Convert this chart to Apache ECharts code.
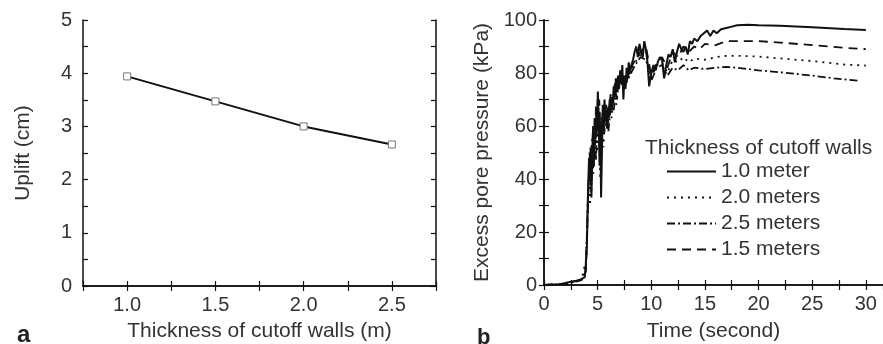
<!DOCTYPE html>
<html>
<head>
<meta charset="utf-8">
<script src="https://cdn.jsdelivr.net/npm/echarts@6/dist/echarts.min.js"></script>
<style>html,body{margin:0;padding:0;background:#fff;}#c{width:883px;height:344px;}</style>
</head>
<body>
<div id="c"></div>
<script>
// ---- Panel a data ----
const thickness = [1.0, 1.5, 2.0, 2.5];
const uplift = [3.94, 3.47, 3.0, 2.66];
const thicknessTicks = [1.0, 1.5, 2.0, 2.5];
const upliftTicks = [0, 1, 2, 3, 4, 5];

// ---- Panel b data: [time (s), excess pore pressure (kPa)] ----
const wall10 = [[0,0],[1.5,0.3],[2.5,1.2],[3.3,1.8],[3.6,2.5],[3.8,3],[3.9,8],[4.0,15],[4.1,35],[4.2,48],[4.28,40],[4.35,52],[4.42,33],[4.5,50],[4.58,60],[4.65,45],[4.72,63],[4.8,55],[4.88,65],[4.95,58],[5.02,73],[5.1,60],[5.18,45],[5.25,62],[5.32,33],[5.4,50],[5.48,68],[5.56,60],[5.64,70],[5.72,62],[5.8,66],[5.88,59],[5.96,67],[6.04,63],[6.12,70],[6.2,65],[6.3,71],[6.4,68],[6.5,75],[6.6,71],[6.7,78],[6.8,73],[6.9,79],[7.0,74],[7.1,81],[7.2,76],[7.3,83],[7.4,70],[7.5,79],[7.6,74],[7.7,82],[7.8,78],[7.9,84],[8.0,80],[8.15,83],[8.3,85],[8.45,88],[8.6,90],[8.75,86],[8.9,91],[9.05,88],[9.2,86],[9.35,92],[9.5,89],[9.65,84],[9.8,75],[10.0,80],[10.2,83],[10.4,81],[10.6,84],[10.8,86],[11.0,85],[11.2,78],[11.4,83],[11.6,87],[11.8,86],[12.0,89],[12.2,84],[12.4,88],[12.6,91],[12.8,89],[13.0,88],[13.2,90],[13.4,87],[13.6,92],[13.8,91],[14.0,93],[14.3,92],[14.6,94],[14.9,95],[15.2,96],[15.5,94],[15.8,96],[16.1,95],[16.5,96.5],[17,97],[17.5,97.5],[18,98],[19,98.2],[20,98],[22,97.8],[25,97.3],[28,96.6],[30,96.2]];
const wall15 = [[0,0],[2,0.5],[3.5,2],[3.9,5],[4.1,30],[4.25,50],[4.4,38],[4.55,57],[4.7,48],[4.85,68],[5.0,62],[5.15,70],[5.3,55],[5.45,64],[5.6,58],[5.8,68],[6.0,61],[6.2,72],[6.4,66],[6.6,76],[6.8,70],[7,78],[7.5,74],[8,81],[8.5,85],[9,88],[9.5,90],[10,79],[10.5,84],[11,86],[11.5,82],[12,88],[12.5,86],[13,90],[13.5,88],[14,90],[14.5,89],[15,91],[16,90.5],[17,92],[18,92],[20,92],[22,91.5],[25,90.5],[28,89.5],[30,89]];
const wall20 = [[0,0],[2,0.4],[3.5,2.2],[3.95,10],[4.15,40],[4.3,30],[4.45,55],[4.6,42],[4.8,60],[4.95,50],[5.1,66],[5.25,40],[5.4,60],[5.55,52],[5.7,66],[5.9,62],[6.1,68],[6.3,63],[6.5,72],[6.75,68],[7,77],[7.5,76],[8,80],[8.5,84],[9,87],[9.5,88],[10,78],[10.5,83],[11,84],[11.5,80],[12,85],[12.5,84],[13,86],[13.5,84],[14,85.5],[15,85],[16,86],[17,86.5],[18,86.5],[20,86.2],[22,85.5],[25,84.5],[28,83.2],[30,82.8]];
const wall25 = [[0,0],[2,0.3],[3.5,1.8],[3.9,6],[4.1,33],[4.25,45],[4.4,35],[4.55,52],[4.7,60],[4.85,47],[5.0,70],[5.15,56],[5.3,48],[5.45,65],[5.6,57],[5.8,63],[6.0,58],[6.25,68],[6.5,66],[6.75,74],[7,76],[7.5,75],[8,79],[8.5,83],[9,86],[9.5,85],[10,77],[10.5,82],[11,83],[11.5,79],[12,82],[12.5,81],[13,83],[13.5,81],[14,82],[15,81.5],[16,82],[17,82.3],[18,82],[20,81],[22,80.3],[25,79],[27,78],[29.5,77]];
const timeTicks = [0, 5, 10, 15, 20, 25, 30];
const pressureTicks = [0, 20, 40, 60, 80, 100];
const legendNames = ['1.0 meter', '2.0 meters', '2.5 meters', '1.5 meters'];

const FONT = '"Liberation Sans", Arial, sans-serif';
const TXT = '#333';
const AX = '#111';

function onlyAt(list, fmt) {
  return v => list.some(t => Math.abs(t - v) < 1e-6) ? fmt(v) : '';
}

function axisBase(extra) {
  return Object.assign({
    type: 'value',
    axisLine: { show: true, lineStyle: { color: AX, width: 1.5 } },
    axisTick: { show: true, inside: true, length: 5, lineStyle: { color: AX, width: 1.2 } },
    splitLine: { show: false },
    axisLabel: { show: false },
    nameTextStyle: { color: TXT, fontFamily: FONT, fontSize: 21 }
  }, extra);
}
function lbl(margin, list, fmt) {
  return { show: true, color: TXT, fontFamily: FONT, fontSize: 20, margin: margin, formatter: onlyAt(list, fmt) };
}

const option = {
  animation: false,
  title: [
    { text: 'a', left: 12, top: 318, textStyle: { fontFamily: FONT, fontSize: 24, fontWeight: 'bold', color: '#222' } },
    { text: 'b', left: 472, top: 322, textStyle: { fontFamily: FONT, fontSize: 22, fontWeight: 'bold', color: '#222' } },
    { text: 'Thickness of cutoff walls', left: 640, top: 133, textStyle: { fontFamily: FONT, fontSize: 21, fontWeight: 'normal', color: TXT } }
  ],
  legend: {
    orient: 'vertical', left: 661, top: 156,
    itemWidth: 49, itemHeight: 14, itemGap: 5,
    data: legendNames,
    itemStyle: { color: 'transparent', borderWidth: 0, opacity: 0 },
    textStyle: { fontFamily: FONT, fontSize: 21, color: TXT }
  },
  grid: [
    { left: 83, right: 447, top: 20, bottom: 58, outerBoundsMode: 'none', containLabel: false },
    { left: 544, right: 0, top: 20, bottom: 59, outerBoundsMode: 'none', containLabel: false }
  ],
  xAxis: [
    axisBase({ gridIndex: 0, min: 0.75, max: 2.75, interval: 0.25, position: 'bottom',
      name: 'Thickness of cutoff walls (m)', nameLocation: 'middle', nameGap: 35,
      axisLabel: lbl(9, thicknessTicks, v => v.toFixed(1)) }),
    axisBase({ gridIndex: 0, min: 0.75, max: 2.75, interval: 0.25, position: 'top' }),
    axisBase({ gridIndex: 1, min: 0, max: 31.6, interval: 2.5, position: 'bottom',
      name: 'Time (second)', nameLocation: 'middle', nameGap: 36,
      axisLabel: Object.assign(lbl(9, timeTicks, v => String(v)), { showMaxLabel: false }) }),
    axisBase({ gridIndex: 1, min: 0, max: 31.6, interval: 2.5, position: 'top' })
  ],
  yAxis: [
    axisBase({ gridIndex: 0, min: 0, max: 5, interval: 0.5, position: 'left',
      name: 'Uplift (cm)', nameLocation: 'middle', nameGap: 49,
      axisLabel: lbl(11, upliftTicks, v => String(v)) }),
    axisBase({ gridIndex: 0, min: 0, max: 5, interval: 0.5, position: 'right' }),
    axisBase({ gridIndex: 1, min: 0, max: 100, interval: 10, position: 'left',
      name: 'Excess pore pressure (kPa)', nameLocation: 'middle', nameGap: 51,
      axisLabel: lbl(7, pressureTicks, v => String(v)) }),
    axisBase({ gridIndex: 1, min: 0, max: 100, interval: 10, position: 'right' })
  ],
  series: [
    {
      type: 'line', xAxisIndex: 0, yAxisIndex: 0,
      data: thickness.map((t, i) => [t, uplift[i]]),
      symbol: 'rect', symbolSize: 7,
      itemStyle: { color: '#fff', borderColor: '#777', borderWidth: 1 },
      lineStyle: { color: '#111', width: 2 }
    },
    {
      name: '1.5 meters', type: 'line', xAxisIndex: 2, yAxisIndex: 2, data: wall15, symbol: 'none',
      itemStyle: { color: '#111' }, lineStyle: { color: '#111', width: 1.8, type: [9, 6] }
    },
    {
      name: '2.0 meters', type: 'line', xAxisIndex: 2, yAxisIndex: 2, data: wall20, symbol: 'none',
      itemStyle: { color: '#111' }, lineStyle: { color: '#111', width: 1.8, type: [2, 5] }
    },
    {
      name: '2.5 meters', type: 'line', xAxisIndex: 2, yAxisIndex: 2, data: wall25, symbol: 'none',
      itemStyle: { color: '#111' }, lineStyle: { color: '#111', width: 1.8, type: [8, 3, 2, 3] }
    },
    {
      name: '1.0 meter', type: 'line', xAxisIndex: 2, yAxisIndex: 2, data: wall10, symbol: 'none',
      itemStyle: { color: '#111' }, lineStyle: { color: '#111', width: 2 }
    }
  ]
};

echarts.init(document.getElementById('c'), null, { renderer: 'canvas' }).setOption(option);
</script>
</body>
</html>
